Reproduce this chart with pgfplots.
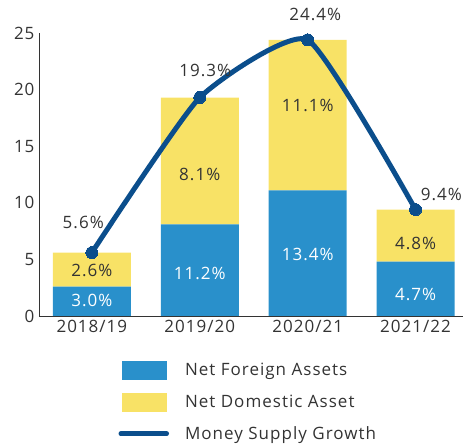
\documentclass[border=0pt]{standalone}
\usepackage{pgfplots}
\pgfplotsset{compat=1.18}
\usepackage{fontspec}
\setmainfont{Open Sans}[LetterSpace=6]
\definecolor{nfa}{HTML}{2990CB}
\definecolor{nda}{HTML}{F8E266}
\definecolor{msg}{HTML}{0B4E8C}
\definecolor{txt}{HTML}{333333}
\begin{document}
\begin{tikzpicture}
\pgfplotsset{
  common/.style={width=424pt,height=283pt,scale only axis,
    xmin=-0.49,xmax=3.44,ymin=0,ymax=25,clip=false,
    font=\fontsize{17}{20}\selectfont,
    /pgf/number format/assume math mode=true}
}
\begin{axis}[common, name=ax, ybar stacked, bar width=78pt,
  axis x line*=bottom, axis y line*=left,
  axis line style={-,draw=txt,line width=0.9pt},
  major tick length=0pt,
  xtick={0,1,2,3}, xticklabels={2018/19,2019/20,2020/21,2021/22},
  ytick={0,5,10,15,20,25},
  tick label style={text=txt},
  yticklabel style={xshift=-1pt},
  xticklabel style={yshift=-1pt}]
\addplot[fill=nfa,draw=none] coordinates {(0,2.6) (1,8.1) (2,11.1) (3,4.8)};
\addplot[fill=nda,draw=none] coordinates {(0,3.0) (1,11.2) (2,13.3) (3,4.6)};
\end{axis}
\begin{axis}[common, axis lines=none, ticks=none,
  legend style={at={(0.18,-0.15)},anchor=north west,draw=none,fill=none,
    font=\fontsize{17}{20}\selectfont, text=txt, row sep=13.5pt,
    /tikz/every odd column/.append style={column sep=14pt}},
  legend cell align=left]
\addlegendimage{legend image code/.code={\fill[nfa] (0pt,-9pt) rectangle (44pt,9pt);}}
\addlegendentry{Net Foreign Assets}
\addlegendimage{legend image code/.code={\fill[nda] (0pt,-9pt) rectangle (44pt,9pt);}}
\addlegendentry{Net Domestic Asset}
\addplot[msg, line width=5pt, smooth, tension=0.3, mark=*, mark size=6pt,
  mark options={fill=msg,draw=msg,line width=0pt},
  legend image code/.code={\draw[msg,line width=4.5pt,line cap=round] (-1pt,0pt) -- (45pt,0pt);}]
  coordinates {(0,5.6) (1,19.3) (2,24.4) (3,9.4)};
\addlegendentry{Money Supply Growth}
% line labels
\addplot[forget plot, only marks, mark=none, point meta=explicit symbolic,
  nodes near coords, nodes near coords align=center,
  every node near coord/.append style={text=txt,font=\fontsize{17}{20}\selectfont}]
  coordinates {(-0.08,8.3) [5.6\%] (1.05,21.73) [19.3\%] (2.07,26.6) [24.4\%] (3.24,10.78) [9.4\%]};
% blue labels
\addplot[forget plot, only marks, mark=none, point meta=explicit symbolic,
  nodes near coords, nodes near coords align=center,
  every node near coord/.append style={text=white,font=\fontsize{17}{20}\selectfont}]
  coordinates {(0,1.33) [3.0\%] (1,3.80) [11.2\%] (2,5.48) [13.4\%] (3,1.94) [4.7\%]};
% yellow labels
\addplot[forget plot, only marks, mark=none, point meta=explicit symbolic,
  nodes near coords, nodes near coords align=center,
  every node near coord/.append style={text=txt,font=\fontsize{17}{20}\selectfont}]
  coordinates {(0,3.98) [2.6\%] (1,12.54) [8.1\%] (2,18.64) [11.1\%] (3,6.45) [4.8\%]};
\end{axis}
\pgfresetboundingbox
\path[use as bounding box] ([shift={(-39pt,-128pt)}]ax.south west) rectangle ([shift={(427pt,316pt)}]ax.south west);
\end{tikzpicture}
\end{document}
